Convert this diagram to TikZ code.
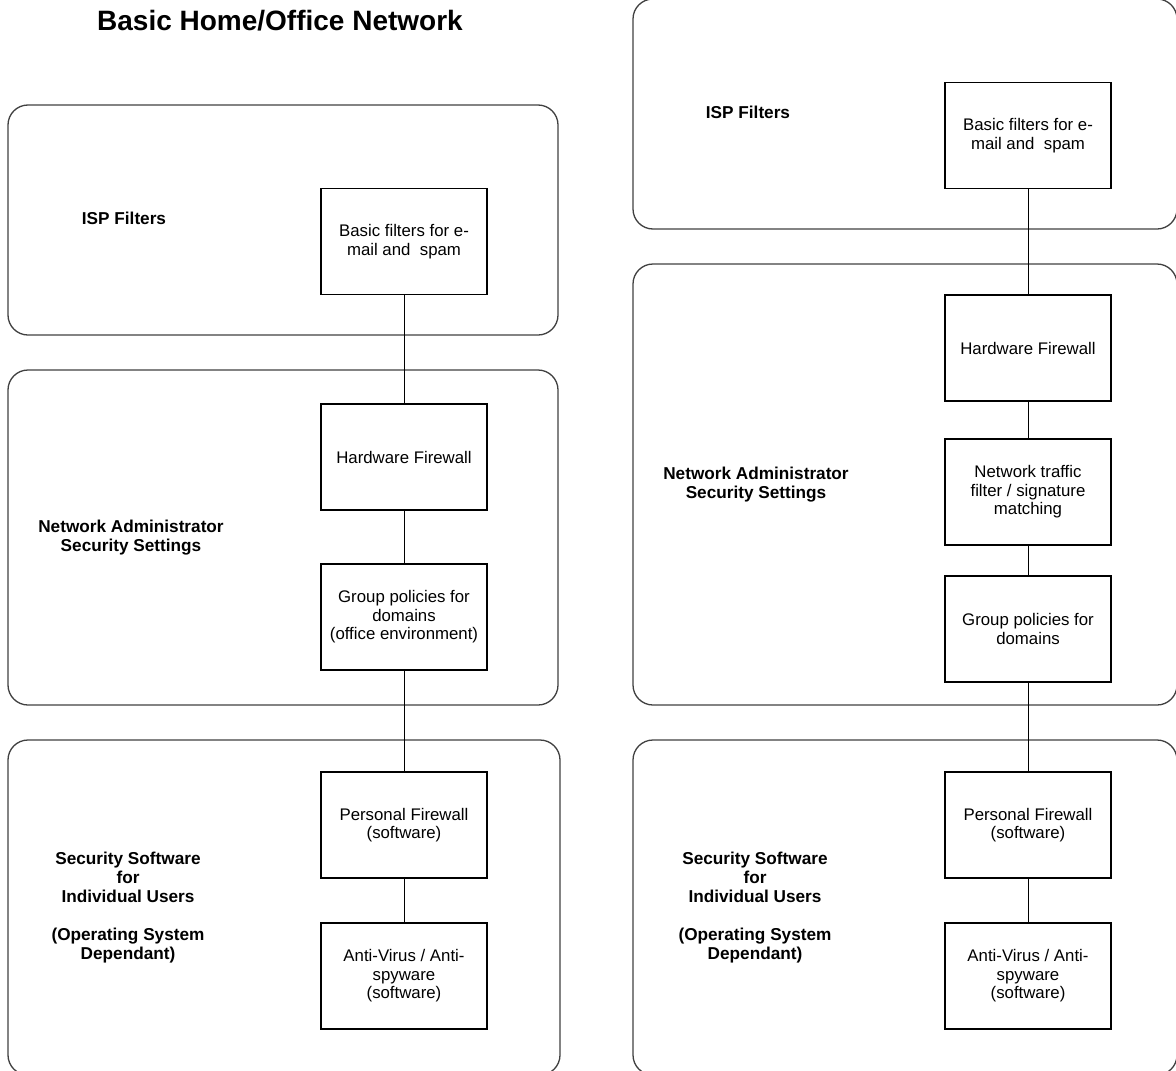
\documentclass[tikz,border=0pt]{standalone}
\usepackage{fontspec}
\setmainfont{Liberation Sans}
\begin{document}
\begin{tikzpicture}[x=1pt,y=-1pt,
  panel/.style={draw=black!75, line width=1.3pt, rounded corners=20pt},
  item/.style={draw, line width=1.2pt, minimum width=166pt, minimum height=106pt,
    inner sep=0pt, align=center, font=\fontsize{16.8}{18.5}\selectfont},
  tier/.style={align=center, font=\bfseries\fontsize{17.2}{19}\selectfont},
  link/.style={line width=1pt}]
\useasboundingbox (0,0) rectangle (1176,1071);
\clip (0,0) rectangle (1176,1071);

% title
\node[font=\bfseries\fontsize{28}{32}\selectfont] (title) at (280,21) {Basic Home/Office Network};

% ---------- left column ----------
\draw[panel] (8,105) rectangle (558,335);
\draw[panel] (8,370) rectangle (558,705);
\draw[panel] (8,740) rectangle (560,1075);

\node[tier] (lisp) at (124,218) {ISP Filters};
\node[tier] (ladm) at (131,537.5) {Network Administrator\\Security Settings};
\node[tier] (lusr) at (128,907.5) {Security Software\\for\\Individual Users\\[19pt](Operating System\\Dependant)};

\node[item] (lf1) at (404,241.5) {Basic filters for e-\\mail and\ \ spam};
\node[item] (lf2) at (404,457) {Hardware Firewall};
\node[item] (lf3) at (404,617) {Group policies for\\domains\\(office environment)};
\node[item] (lf4) at (404,825) {Personal Firewall\\(software)};
\node[item] (lf5) at (404,976) {Anti-Virus / Anti-\\spyware\\(software)};

\draw[link] (lf1) -- (lf2);
\draw[link] (lf2) -- (lf3);
\draw[link] (lf3) -- (lf4);
\draw[link] (lf4) -- (lf5);

% ---------- right column ----------
\draw[panel] (633,-1) rectangle (1177,229);
\draw[panel] (633,264) rectangle (1177,705);
\draw[panel] (633,740) rectangle (1177,1075);

\node[tier] (risp) at (748,112) {ISP Filters};
\node[tier] (radm) at (756,484.5) {Network Administrator\\Security Settings};
\node[tier] (rusr) at (755,907.5) {Security Software\\for\\Individual Users\\[19pt](Operating System\\Dependant)};

\node[item] (rf1) at (1028,135.5) {Basic filters for e-\\mail and\ \ spam};
\node[item] (rf2) at (1028,348) {Hardware Firewall};
\node[item] (rf3) at (1028,492) {Network traffic\\filter / signature\\matching};
\node[item] (rf4) at (1028,629) {Group policies for\\domains};
\node[item] (rf5) at (1028,825) {Personal Firewall\\(software)};
\node[item] (rf6) at (1028,976) {Anti-Virus / Anti-\\spyware\\(software)};

\draw[link] (rf1) -- (rf2);
\draw[link] (rf2) -- (rf3);
\draw[link] (rf3) -- (rf4);
\draw[link] (rf4) -- (rf5);
\draw[link] (rf5) -- (rf6);
\end{tikzpicture}
\end{document}
